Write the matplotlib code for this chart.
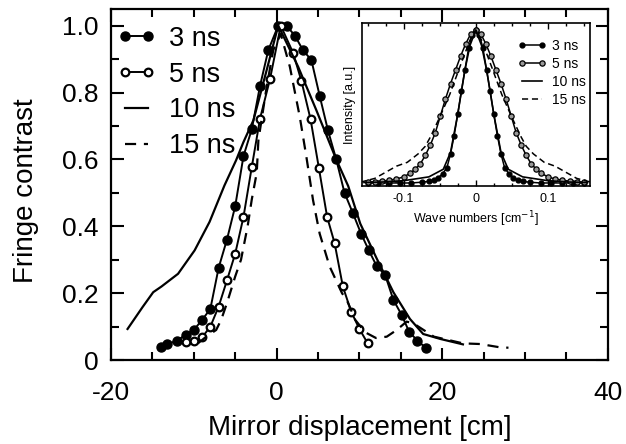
import matplotlib
matplotlib.use("Agg")
import matplotlib.pyplot as plt
from matplotlib.ticker import MultipleLocator

plt.rcParams['font.family'] = ['Liberation Sans', 'DejaVu Sans']
plt.rcParams['axes.unicode_minus'] = False

# ---- main panel: fringe contrast vs mirror displacement ----
x3 = [-14, -13.2, -12, -11, -10, -9, -8, -7, -6, -5, -4, -3, -2, -1, 0.2, 1.2,
      2.2, 3.2, 4.2, 5.2, 6.2, 7.2, 8.2, 9.2, 10.2, 11.1, 12.1, 13.1, 14.1, 15.1,
      16.0, 17.0, 18.0]
y3 = [0.038, 0.048, 0.058, 0.076, 0.09, 0.12, 0.153, 0.276, 0.36, 0.46, 0.61,
      0.69, 0.82, 0.927, 1.0, 1.0, 0.97, 0.926, 0.897, 0.79, 0.687, 0.60, 0.50,
      0.44, 0.378, 0.33, 0.28, 0.255, 0.18, 0.135, 0.085, 0.058, 0.037]

x5 = [-11, -10, -9, -8, -7, -6, -5, -4, -3, -2, -0.8, 0.5, 2.0, 3.0, 4.1, 5.1,
      6.1, 7.0, 8.0, 9.0, 10.0, 11.0]
y5 = [0.055, 0.058, 0.068, 0.10, 0.16, 0.238, 0.318, 0.428, 0.577, 0.722, 0.84,
      1.0, 0.918, 0.834, 0.72, 0.575, 0.428, 0.35, 0.22, 0.145, 0.093, 0.05]

x10 = [-18.0, -16.2, -14.9, -13.9, -11.9, -9.9, -8.1, -6.3, -4.9, -4.0, -2.8,
       -1.2, 0.2, 2.6, 4.8, 7.2, 8.65, 10.1, 12.1, 14.1, 16.1, 17.7, 19.8, 22.5]
y10 = [0.093, 0.158, 0.203, 0.22, 0.258, 0.328, 0.413, 0.522, 0.597, 0.652,
       0.717, 0.867, 1.0, 0.877, 0.747, 0.60, 0.52, 0.408, 0.303, 0.203, 0.123,
       0.078, 0.063, 0.047]

x15 = [-9.5, -8.5, -7.3, -6.7, -6.0, -5.0, -4.3, -3.5, -3.0, -2.4, -2.2, -1.2,
       -0.4, 0.5, 1.6, 2.8, 3.6, 4.4, 5.2, 6.4, 7.9, 8.5, 9.5, 10.7, 12.0, 13.3,
       14.5, 15.7, 16.5, 19.0, 22.5, 24.6, 27.0, 28.0]
y15 = [0.05, 0.07, 0.09, 0.12, 0.17, 0.25, 0.30, 0.40, 0.48, 0.56, 0.657, 0.817,
       0.927, 0.975, 0.877, 0.727, 0.607, 0.478, 0.378, 0.28, 0.20, 0.178, 0.12,
       0.083, 0.066, 0.07, 0.09, 0.115, 0.11, 0.07, 0.05, 0.048, 0.038, 0.037]

# ---- inset: spectra ----
kn = [-0.15, -0.135, -0.12, -0.105, -0.09, -0.075, -0.065, -0.058, -0.052,
      -0.046, -0.04, -0.035, -0.03, -0.025, -0.02, -0.015, -0.01, -0.005, 0,
      0.005, 0.01, 0.015, 0.02, 0.025, 0.03, 0.035, 0.04, 0.046, 0.052, 0.058,
      0.065, 0.075, 0.09, 0.105, 0.12, 0.135, 0.15]
i3 = [0, 0, 0, 0, 0, 0.005, 0.01, 0.02, 0.035, 0.06, 0.1, 0.19, 0.31, 0.45,
      0.6, 0.74, 0.88, 0.97, 1.0, 0.97, 0.88, 0.74, 0.6, 0.45, 0.31, 0.19, 0.1,
      0.06, 0.035, 0.02, 0.01, 0.005, 0, 0, 0, 0, 0]

k10 = [-0.155, -0.13, -0.1, -0.065, -0.045, -0.035, -0.025, -0.015, -0.008, 0,
       0.008, 0.015, 0.025, 0.035, 0.045, 0.065, 0.1, 0.13, 0.155]
i10 = [0.003, 0.006, 0.015, 0.04, 0.09, 0.2, 0.45, 0.74, 0.9, 1.0, 0.9, 0.74,
       0.45, 0.2, 0.09, 0.04, 0.015, 0.006, 0.003]

kw = [-0.15, -0.14, -0.13, -0.12, -0.11, -0.1, -0.091, -0.084, -0.077, -0.07,
      -0.063, -0.056, -0.049, -0.042, -0.035, -0.028, -0.021, -0.014, -0.007, 0,
      0.007, 0.014, 0.021, 0.028, 0.035, 0.042, 0.049, 0.056, 0.063, 0.07, 0.077,
      0.084, 0.091, 0.1, 0.11, 0.12, 0.13, 0.14, 0.15]
i5 = [0.005, 0.008, 0.012, 0.018, 0.026, 0.04, 0.063, 0.09, 0.124, 0.18, 0.248,
      0.33, 0.44, 0.55, 0.65, 0.74, 0.83, 0.91, 0.975, 1.0, 0.975, 0.91, 0.83,
      0.74, 0.65, 0.55, 0.44, 0.33, 0.248, 0.18, 0.124, 0.09, 0.063, 0.04, 0.026,
      0.018, 0.012, 0.008, 0.005]

k15 = [-0.16, -0.14, -0.125, -0.11, -0.095, -0.08, -0.07, -0.063, -0.05, -0.036,
       -0.022, -0.008, 0, 0.008, 0.022, 0.036, 0.05, 0.063, 0.07, 0.08, 0.095,
       0.11, 0.125, 0.14, 0.16]
i15 = [0.005, 0.03, 0.07, 0.11, 0.135, 0.19, 0.24, 0.30, 0.43, 0.58, 0.76, 0.935,
       1.0, 0.935, 0.76, 0.58, 0.43, 0.30, 0.24, 0.19, 0.135, 0.11, 0.07, 0.03,
       0.005]

labels = ['3 ns', '5 ns', '10 ns', '15 ns']

fig = plt.figure(figsize=(6.26, 4.44), dpi=100)
ax = fig.add_axes([0.1773, 0.189, 0.7937, 0.791])

ax.plot(x3, y3, '-o', color='k', lw=1.4, ms=6.5, mfc='k', mec='k', label=labels[0])
ax.plot(x5, y5, '-o', color='k', lw=1.4, ms=5.5, mfc='white', mec='k', mew=1.6,
        label=labels[1])
ax.plot(x10, y10, '-', color='k', lw=1.6, label=labels[2])
ax.plot(x15, y15, '--', color='k', lw=1.6, dashes=(5, 3.5), label=labels[3])

ax.set_xlim(-20, 40)
ax.set_ylim(0, 1.05)
ax.xaxis.set_major_locator(MultipleLocator(20))
ax.xaxis.set_minor_locator(MultipleLocator(5))
ax.yaxis.set_minor_locator(MultipleLocator(0.1))
ax.set_yticks([0, 0.2, 0.4, 0.6, 0.8, 1.0])
ax.set_yticklabels(['0', '0.2', '0.4', '0.6', '0.8', '1.0'])
ax.tick_params(which='both', direction='in', top=True, right=True, width=1.5,
               labelsize=19)
ax.tick_params(which='major', length=9)
ax.tick_params(which='minor', length=6)
ax.tick_params(axis='x', which='major', pad=15)
ax.tick_params(axis='y', which='major', pad=9)
for s in ax.spines.values():
    s.set_linewidth(1.6)
ax.set_xlabel('Mirror displacement [cm]', fontsize=20, labelpad=7)
ax.set_ylabel('Fringe contrast', fontsize=20)
ax.yaxis.set_label_coords(-0.145, 0.481)

ax.legend(loc='upper left', bbox_to_anchor=(-0.004, 0.975), frameon=False,
          fontsize=19.5, handlelength=1.45, handletextpad=0.45, labelspacing=0.36,
          borderpad=0.3, borderaxespad=0.0, numpoints=2)

# ---- inset ----
ins = fig.add_axes([0.578, 0.581, 0.364, 0.367])
ins.plot(kn, i3, '-o', color='k', lw=1.1, ms=3.5, mfc='k', mec='k', label=labels[0])
ins.plot(kw, i5, '-o', color='k', lw=1.1, ms=3.8, mfc='0.6', mec='k', mew=0.9,
         label=labels[1])
ins.plot(k10, i10, '-', color='k', lw=1.2, label=labels[2])
ins.plot(k15, i15, '--', color='k', lw=1.1, dashes=(4, 2.5), label=labels[3])
ins.set_xlim(-0.158, 0.158)
ins.set_ylim(-0.02, 1.046)
ins.set_xticks([-0.1, 0, 0.1])
ins.set_xticklabels(['-0.1', '0', '0.1'])
ins.xaxis.set_minor_locator(MultipleLocator(0.025))
ins.set_yticks([])
ins.tick_params(which='both', direction='in', top=True, labelsize=9, width=1.0)
ins.tick_params(which='major', length=4, pad=5)
ins.tick_params(which='minor', length=2.5)
for s in ins.spines.values():
    s.set_linewidth(1.2)
ins.set_xlabel('Wave numbers [cm$^{-1}$]', fontsize=9, labelpad=3)
ins.set_ylabel('Intensity [a.u.]', fontsize=9, labelpad=4)
ins.legend(loc='upper right', bbox_to_anchor=(1.0, 0.93), frameon=False,
           fontsize=10, handlelength=2.0, handletextpad=0.4, labelspacing=0.3,
           numpoints=2, borderpad=0.2, borderaxespad=0.1)

fig.savefig('out.png', dpi=100)
